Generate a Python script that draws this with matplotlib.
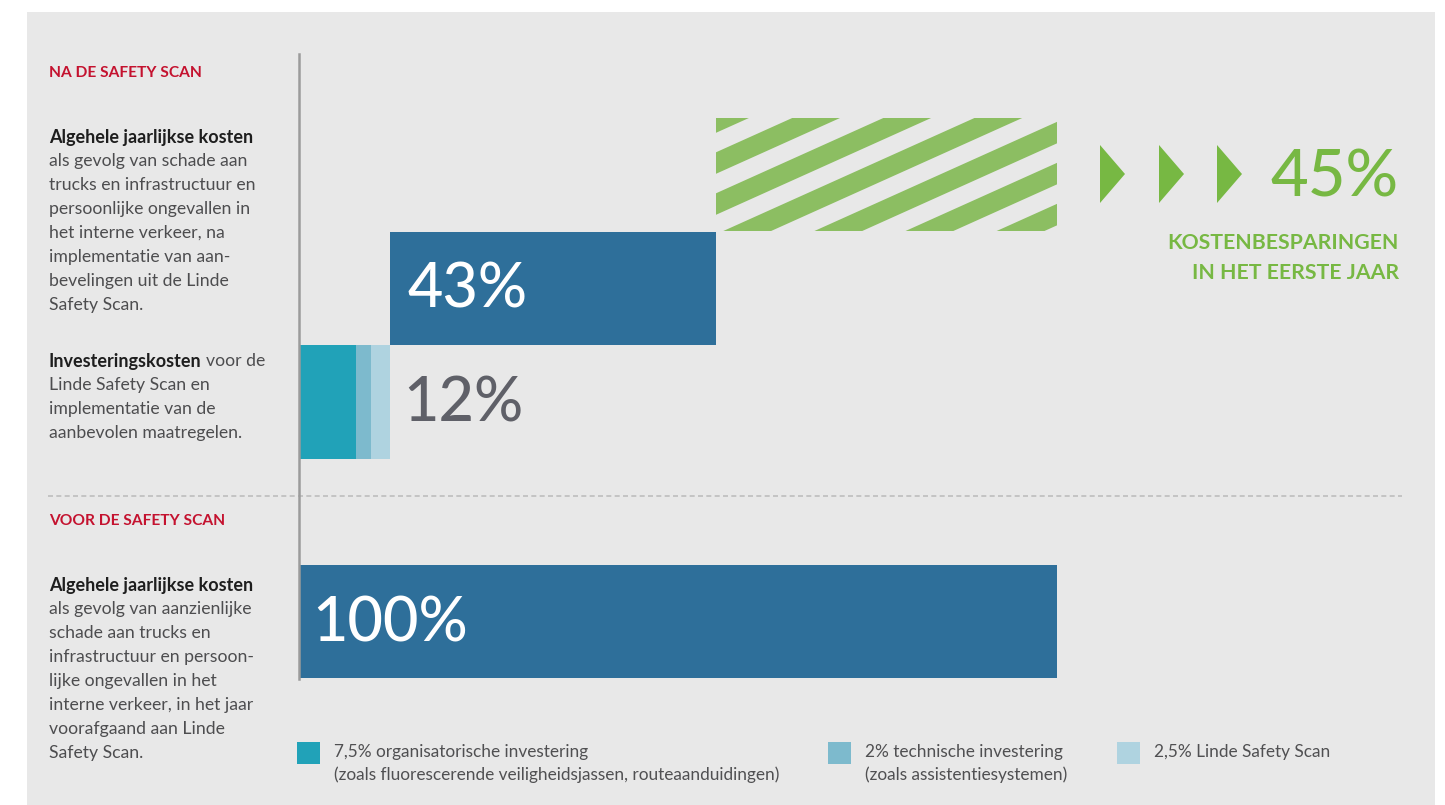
import matplotlib
matplotlib.use('Agg')
import numpy as np
import matplotlib.pyplot as plt
from matplotlib.patches import Rectangle, Polygon

plt.rcParams['font.family'] = ['Lato', 'DejaVu Sans']

W, H = 1445, 805

# data (percent of yearly costs before the Safety Scan)
before_total = 100
invest_labels = ['7,5% organisatorische investering\n(zoals fluorescerende veiligheidsjassen, routeaanduidingen)',
                 '2% technische investering\n(zoals assistentiesystemen)',
                 '2,5% Linde Safety Scan']
invest_values = [7.5, 2, 2.5]
invest_total_label = '12%'
after_cost = 43
savings = 45

# colours
BG = '#e8e8e8'
DARK_BLUE = '#2e6f9a'
INVEST_COLORS = ['#21a2b8', '#7dbacd', '#afd3e0']
GREEN_STRIPE = '#8cbe62'
GREEN = '#77b843'
RED = '#c4122f'
TXT = '#4d4d4f'
TXT_BOLD = '#1e1e1e'


def fp(x, y):
    # pixel position -> figure fraction
    return x / W, 1 - y / H


fig = plt.figure(figsize=(W / 100, H / 100), dpi=100)
fig.patch.set_facecolor('white')
fig.add_artist(Rectangle(fp(27, 805), 1408 / W, 793 / H, transform=fig.transFigure,
                         facecolor=BG, edgecolor='none', zorder=0))

# chart area: x in %, y in pixel rows
ax_left, ax_right = 299, 1057
ax = fig.add_axes([ax_left / W, 0, (ax_right - ax_left) / W, 1])
ax.set_xlim(0, 100)
ax.set_ylim(H, 0)
ax.set_axis_off()
ax.patch.set_alpha(0)
ppu = (ax_right - ax_left) / 100.0

row_h = 113
y_save, y_after, y_invest, y_before = 175, 288, 402, 621.5
big_fs = 44
big_w = 'medium'

# before
ax.barh(y_before, before_total, left=0, height=row_h, color=DARK_BLUE, zorder=2)
ax.text(1.8, y_before + 2, f'{before_total}%', color='white', fontsize=big_fs,
        fontweight=big_w, va='center', ha='left', zorder=3)

# investments stacked
left = 0
for v, c in zip(invest_values, INVEST_COLORS):
    ax.barh(y_invest, v, left=left, height=row_h, color=c, zorder=2)
    left += v
invest_sum = left
ax.text(invest_sum + 1.8, y_invest + 2, invest_total_label, color='#5f6068', fontsize=big_fs,
        fontweight=big_w, va='center', ha='left', zorder=3)

# after: remaining costs
ax.barh(y_after, after_cost, left=invest_sum, height=row_h, color=DARK_BLUE, zorder=2)
ax.text(invest_sum + 2.3, y_after + 2, f'{after_cost}%', color='white', fontsize=big_fs,
        fontweight=big_w, va='center', ha='left', zorder=3)

# savings: striped bar
s_left = invest_sum + after_cost
bars = ax.barh(y_save, savings, left=s_left, height=row_h, color='none', zorder=2)
clip = bars.patches[0]
k, period, width, phase = 0.45, 41.0, 21.5, 23.5
x0p = ax_left + s_left * ppu
x1p = ax_left + (s_left + savings) * ppu
ytop, ybot = y_save - row_h / 2, y_save + row_h / 2
smin, smax = ytop + k * x0p, ybot + k * x1p
n0 = int(np.floor((smin - phase) / period)) - 1
n1 = int(np.ceil((smax - phase) / period)) + 1
for n in range(n0, n1 + 1):
    c = phase + n * period
    pts = [(x0p, c - k * x0p), (x1p, c - k * x1p),
           (x1p, c + width - k * x1p), (x0p, c + width - k * x0p)]
    pts = [((px - ax_left) / ppu, py) for px, py in pts]
    poly = Polygon(pts, closed=True, facecolor=GREEN_STRIPE, edgecolor='none', zorder=2)
    ax.add_patch(poly)
    poly.set_clip_path(clip)

# axis line and separator
fig.add_artist(plt.Line2D([fp(299, 0)[0]] * 2, [fp(0, 54)[1], fp(0, 679)[1]],
                          transform=fig.transFigure, color='#9b9b9b', lw=1.8, zorder=4))
fig.add_artist(plt.Line2D([fp(48, 0)[0], fp(1402, 0)[0]], [fp(0, 496)[1]] * 2,
                          transform=fig.transFigure, color='#bdbdbd', lw=1.2,
                          ls=(0, (3, 2)), zorder=1))

# arrows and savings text
for ax0 in [1100, 1159, 1217]:
    tri = Polygon([fp(ax0, 145), fp(ax0 + 25, 174), fp(ax0, 203)], closed=True,
                  transform=fig.transFigure, facecolor=GREEN, edgecolor='none')
    fig.add_artist(tri)
fig.text(*fp(1399, 178), f'{savings}%', color=GREEN, fontsize=47, fontweight=big_w,
         ha='right', va='center')
fig.text(*fp(1399, 243), 'KOSTENBESPARINGEN', color=GREEN, fontsize=15.3,
         fontweight='bold', ha='right', va='center')
fig.text(*fp(1399, 273), 'IN HET EERSTE JAAR', color=GREEN, fontsize=15.3,
         fontweight='bold', ha='right', va='center')

# left column
fig.text(*fp(49, 73), 'NA DE SAFETY SCAN', color=RED, fontsize=11.2, fontweight='bold',
         va='center')
fig.text(*fp(49, 521), 'VOOR DE SAFETY SCAN', color=RED, fontsize=11.2, fontweight='bold',
         va='center')

body_fs = 12.7
lh = 24


def block(y, bold_first, lines):
    fig.text(*fp(49, y), bold_first, color=TXT_BOLD, fontsize=body_fs + 0.3, fontweight='bold',
             va='center')
    for i, line in enumerate(lines):
        fig.text(*fp(49, y + (i + 1) * lh), line, color=TXT, fontsize=body_fs, va='center')


block(137, 'Algehele jaarlijkse kosten',
      ['als gevolg van schade aan', 'trucks en infrastructuur en',
       'persoonlijke ongevallen in', 'het interne verkeer, na',
       'implementatie van aan-', 'bevelingen uit de Linde', 'Safety Scan.'])

renderer = fig.canvas.get_renderer()
t = fig.text(*fp(49, 361), 'Investeringskosten', color=TXT_BOLD, fontsize=body_fs + 0.3,
             fontweight='bold', va='center')
bb = t.get_window_extent(renderer)
fig.text(bb.x1 / W + 4 / W, fp(0, 361)[1], 'voor de', color=TXT, fontsize=body_fs, va='center')
for i, line in enumerate(['Linde Safety Scan en', 'implementatie van de',
                          'aanbevolen maatregelen.']):
    fig.text(*fp(49, 361 + (i + 1) * lh), line, color=TXT, fontsize=body_fs, va='center')

block(585, 'Algehele jaarlijkse kosten',
      ['als gevolg van aanzienlijke', 'schade aan trucks en',
       'infrastructuur en persoon-', 'lijke ongevallen in het',
       'interne verkeer, in het jaar', 'voorafgaand aan Linde', 'Safety Scan.'])

# legend
for sx, lab, c in zip([297, 828, 1117], invest_labels, INVEST_COLORS):
    fig.add_artist(Rectangle(fp(sx, 764), 23 / W, 22 / H, transform=fig.transFigure,
                             facecolor=c, edgecolor='none'))
    fig.text(*fp(sx + 37, 744), lab, color='#505052', fontsize=12.4,
             va='top', linespacing=1.45)

fig.savefig('out.png', dpi=100, facecolor='white')
